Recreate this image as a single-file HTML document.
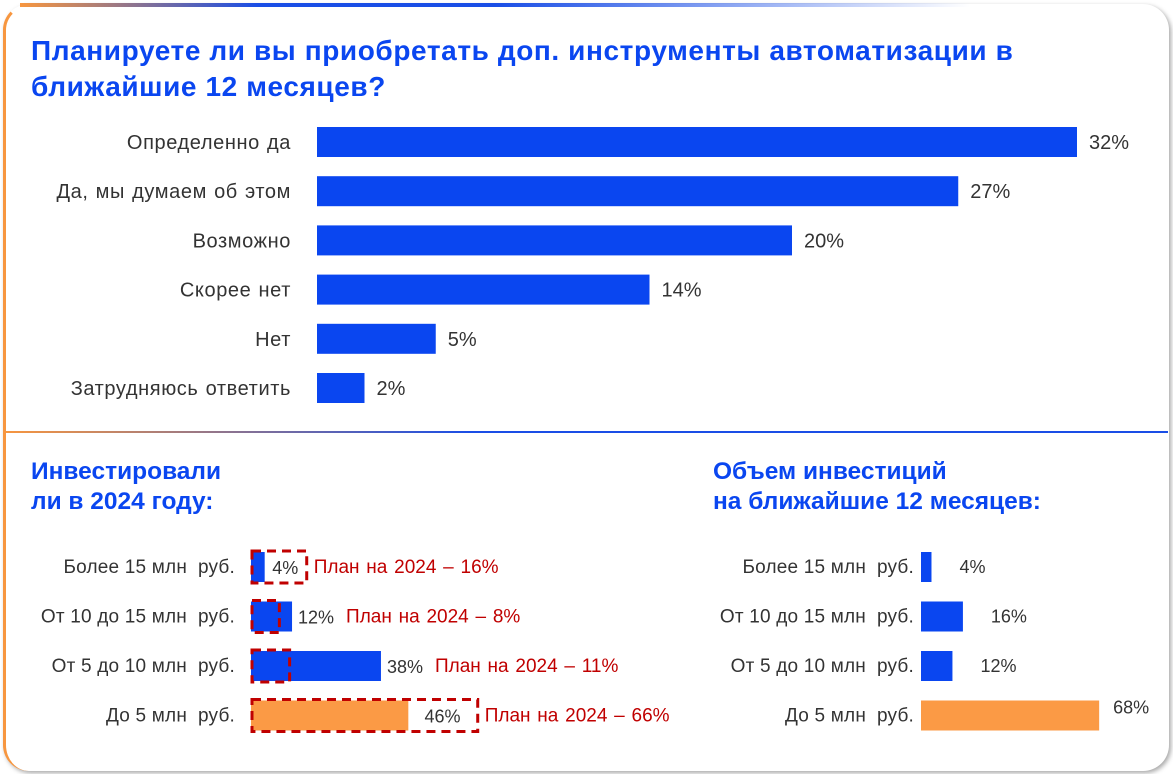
<!DOCTYPE html>
<html><head><meta charset="utf-8"><style>
body{margin:0;width:1173px;height:774px;background:#fff;font-family:"Liberation Sans",sans-serif;overflow:hidden;position:relative}
.card{position:absolute;left:3px;top:4px;width:1163px;height:764px;border-radius:26px;background:#fff;box-shadow:2px 2px 5px rgba(0,0,0,.35);border-left:3px solid #f7963f;border-top:3px solid transparent}
.topgrad{position:absolute;left:20px;top:3px;width:950px;height:4px;background:linear-gradient(90deg,#f7963f,#1a4ee6 25%,#1a4ee6 50%,rgba(26,78,230,0))}
.divider{position:absolute;left:5px;top:431px;width:1163px;height:2px;background:linear-gradient(90deg,#f7963f,#1a4ee6 40%)}
.t{position:absolute;color:#0a46f0;font-weight:bold;white-space:nowrap}
svg text{white-space:pre}
</style></head><body>
<div class="card"></div>
<div class="topgrad"></div>
<div class="divider"></div>
<div class="t" style="left:31px;top:33px;font-size:28px;line-height:36px;letter-spacing:0.6px">Планируете ли вы приобретать доп. инструменты автоматизации в<br>ближайшие 12 месяцев?</div>
<div class="t" style="left:31px;top:457px;font-size:24.5px;line-height:30px">Инвестировали<br>ли в 2024 году:</div>
<div class="t" style="left:713px;top:457px;font-size:24.5px;line-height:30px">Объем инвестиций<br>на ближайшие 12 месяцев:</div>
<svg id="chart" width="1173" height="774" style="position:absolute;left:0;top:0"></svg>
<script>
const topCats=["Определенно да","Да, мы думаем об этом","Возможно","Скорее нет","Нет","Затрудняюсь ответить"];
const topVals=[32,27,20,14,5,2];
const botCats=["Более 15 млн  руб.","От 10 до 15 млн  руб.","От 5 до 10 млн  руб.","До 5 млн  руб."];
const investedVals=[4,12,38,46];
const planVals=[16,8,11,66];
const futureVals=[4,16,12,68];
const NS="http://www.w3.org/2000/svg";
const svg=document.getElementById('chart');
function mk(tag,attrs,txt){const e=document.createElementNS(NS,tag);for(const k in attrs)e.setAttribute(k,attrs[k]);if(txt!==undefined)e.textContent=txt;svg.appendChild(e);return e;}
const xTop=v=>317+v*23.75, yTop=i=>142+i*49.2;
topCats.forEach((c,i)=>{
 const l=mk('text',{x:291,y:yTop(i)+7,'text-anchor':'end','font-size':20,'letter-spacing':0.6,'word-spacing':1,fill:'#333'},c);
 
 const b=mk('rect',{x:317,y:yTop(i)-15,width:xTop(topVals[i])-317,height:30,fill:'#0a46f0'});
 
 const v=mk('text',{x:xTop(topVals[i])+12,y:yTop(i)+7,'font-size':20,fill:'#333'},topVals[i]+'%');
 
});
const xL=v=>251+v*3.42, yB=i=>567+i*49.5;
const xR=v=>921+v*2.62;
botCats.forEach((c,i)=>{
 const last=i===3, col=last?'#fb9a45':'#0a46f0';
 const l=mk('text',{x:235,y:yB(i)+6,'text-anchor':'end','font-size':19,'letter-spacing':0.2,fill:'#333'},c);
 
 const b=mk('rect',{x:251,y:yB(i)-15,width:xL(investedVals[i])-251,height:30,fill:col});
 
 const pw=xL(planVals[i])-251;
 const p=mk('rect',{x:252,y:yB(i)-16,width:pw,height:32,fill:'none',stroke:'#c00000','stroke-width':3,'stroke-dasharray':'9 6'});
 
 const inside=planVals[i]>investedVals[i];
 const vx=inside?xL(investedVals[i])+(xL(planVals[i])-xL(investedVals[i]))/2:xL(investedVals[i])+6;
 const v=mk('text',{x:vx,y:yB(i)+7,'text-anchor':inside?'middle':'start','font-size':18,fill:'#333'},investedVals[i]+'%');
 
 const right=Math.max(xL(planVals[i]),xL(investedVals[i])+(inside?0:46));
 const pl=mk('text',{x:right+8,y:yB(i)+6,'font-size':19,'word-spacing':1.5,fill:'#c00000'},'План на 2024 – '+planVals[i]+'%');
 
 const l2=mk('text',{x:914,y:yB(i)+6,'text-anchor':'end','font-size':19,'letter-spacing':0.2,fill:'#333'},c);
 
 const b2=mk('rect',{x:921,y:yB(i)-15,width:xR(futureVals[i])-921,height:30,fill:col});
 
 const v2=mk('text',{x:xR(futureVals[i])+(last?14:28),y:yB(i)+(last?-2:6),'font-size':18,fill:'#333'},futureVals[i]+'%');
 
});
</script>
</body></html>
